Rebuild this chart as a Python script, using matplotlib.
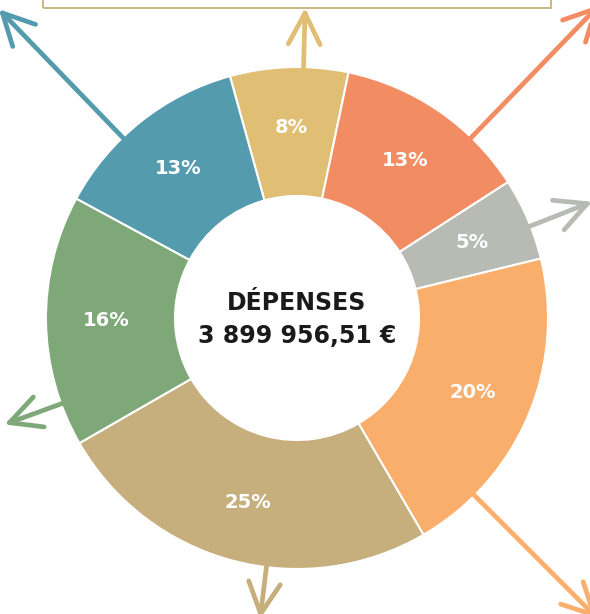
import numpy as np
import matplotlib.pyplot as plt
from matplotlib.patches import Rectangle

# Expense shares (percent), clockwise from top
shares = [7.6, 12.6, 5.3, 20.4, 25.1, 16.2, 12.8]
colors = ['#E0BE74', '#F28C62', '#B8BBB4', '#FAAE6B', '#C6AF7D', '#7EA878', '#559BAE']
title = "DÉPENSES"
total = "3 899 956,51 €"

# arrow directions (deg clockwise from top) and tip distance in px
arrow_angles = [1.5, 44, 68.5, 135, 187, 250, 316]
arrow_tips = [305, 430, 312, 420, 298, 306, 424]

W, H = 590, 614
fig = plt.figure(figsize=(W / 100, H / 100), dpi=100)
ax = fig.add_axes([0, 0, 1, 1])
ax.set_xlim(0, W)
ax.set_ylim(0, H)
ax.set_aspect('equal')
ax.axis('off')

cx, cy = 297, H - 318
R, r_in = 251, 122

wedges, texts, autotexts = ax.pie(
    shares, colors=colors, center=(cx, cy), radius=R,
    startangle=105.5, counterclock=False,
    autopct=lambda p: f"{p:.0f}%", pctdistance=0.76,
    wedgeprops=dict(width=R - r_in, edgecolor='white', linewidth=1.5),
    textprops=dict(color='white', fontsize=14, fontweight='bold',
                   family='DejaVu Sans'),
)
ax.set_xlim(0, W)
ax.set_ylim(0, H)


def draw_arrow(theta, r1, color):
    t = np.radians(theta)
    d = np.array([np.sin(t), np.cos(t)])
    p0 = np.array([cx, cy]) + (R - 2) * d
    p1 = np.array([cx, cy]) + r1 * d
    kw = dict(color=color, lw=3.4, solid_capstyle='round', zorder=5)
    ax.plot([p0[0], p1[0]], [p0[1], p1[1]], **kw)
    for s in (-1, 1):
        a = np.arctan2(-d[1], -d[0]) + s * np.radians(27)
        h = p1 + 35 * np.array([np.cos(a), np.sin(a)])
        ax.plot([p1[0], h[0]], [p1[1], h[1]], **kw)


for ang, tip, col in zip(arrow_angles, arrow_tips, colors):
    draw_arrow(ang, tip, col)

# centre label
ax.text(cx, H - 303, title, ha='center', va='center', fontsize=17,
        fontweight='bold', family='DejaVu Sans', color='#1a1a1a')
ax.text(cx, H - 336, total, ha='center', va='center', fontsize=17,
        fontweight='bold', family='DejaVu Sans', color='#1a1a1a')

# header box cut off at the top
ax.add_patch(Rectangle((43, H - 8), 508, 40, fill=False,
                       edgecolor='#C8B07C', lw=1.3, zorder=6))

fig.savefig('out.png', dpi=100)
